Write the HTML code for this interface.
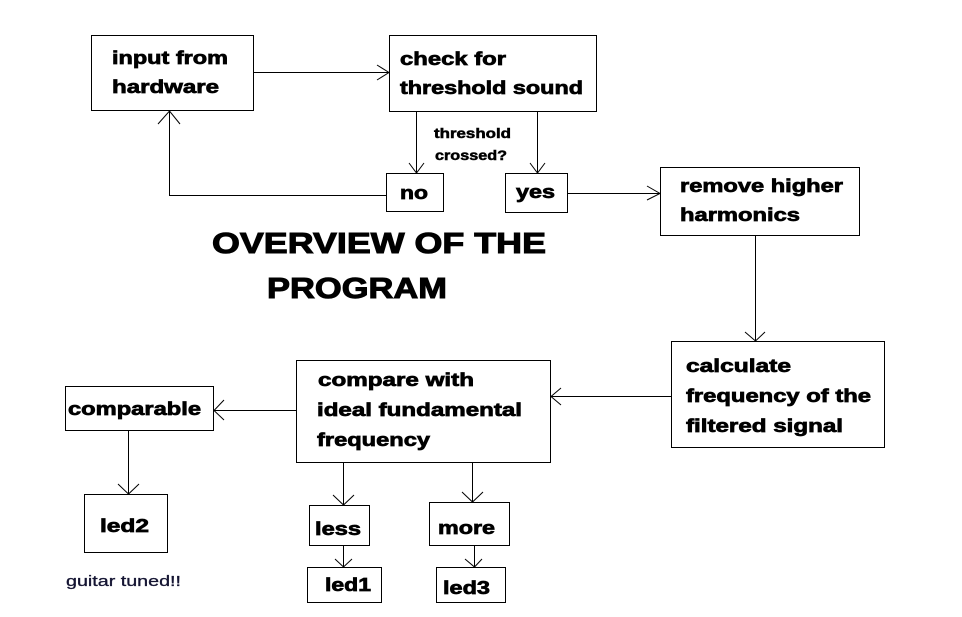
<!DOCTYPE html>
<html><head><meta charset="utf-8"><style>
html,body{margin:0;padding:0;background:#fff;}
svg{display:block}
text{font-family:"Liberation Sans",Arial,sans-serif;font-weight:bold;fill:#000;font-size:18px;stroke:#000;stroke-width:0.7px;}
.t{font-size:29px;stroke-width:1px}
.s{font-size:14px;stroke-width:0.5px}
.g{font-size:15px;fill:#141432;stroke:#141432;stroke-width:0.3px;font-weight:normal}
</style></head><body>
<svg width="962" height="617" viewBox="0 0 962 617" xmlns="http://www.w3.org/2000/svg">
<g fill="none" stroke="#000" stroke-width="1" shape-rendering="crispEdges">
<rect x="91.5" y="35.5" width="162" height="75"/>
<rect x="389.5" y="35.5" width="207" height="76"/>
<rect x="386.5" y="173.5" width="57" height="38"/>
<rect x="505.5" y="173.5" width="62" height="39"/>
<rect x="660.5" y="167.5" width="199" height="68"/>
<rect x="671.5" y="341.5" width="213" height="106"/>
<rect x="296.5" y="360.5" width="254" height="102"/>
<rect x="65.5" y="386.5" width="148" height="44"/>
<rect x="84.5" y="494.5" width="83" height="58"/>
<rect x="309.5" y="505.5" width="60" height="40"/>
<rect x="429.5" y="502.5" width="80" height="43"/>
<rect x="307.5" y="567.5" width="74" height="35"/>
<rect x="436.5" y="567.5" width="69" height="35"/>
<path d="M253.5 72.5H389.5 M416.5 111V173 M537.5 111V173 M386 195.5H169.5V110 M567 193.5H660 M755.5 235V341 M671 396.5H550 M296 410.5H213 M128.5 430V494 M343.5 462V505 M472.5 462V502 M343.5 545V567 M474.5 545V567"/>
</g>
<g fill="none" stroke="#000" stroke-width="1">
<path d="M377 65L389 72.5L377 80"/>
<path d="M409 163L416.5 173L424 163"/>
<path d="M530 163L537.5 173L545 163"/>
<path d="M158 124L169.5 111L180 124"/>
<path d="M647 186L660 193.5L647 200"/>
<path d="M745 332L755.5 341L765 332"/>
<path d="M561 388L551 396.5L561 405"/>
<path d="M224 400L214 410.5L224 420"/>
<path d="M118 484L128.5 494L139 484"/>
<path d="M333 495L343.5 505L354 495"/>
<path d="M462 492L472.5 502L483 492"/>
<path d="M335 559L343.5 567L352 559"/>
<path d="M465 559L474.5 567L482 559"/>
</g>
<text x="112" y="64" textLength="116" lengthAdjust="spacingAndGlyphs">input from</text>
<text x="112" y="93" textLength="107" lengthAdjust="spacingAndGlyphs">hardware</text>
<text x="400" y="65" textLength="106" lengthAdjust="spacingAndGlyphs">check for</text>
<text x="400" y="94" textLength="183" lengthAdjust="spacingAndGlyphs">threshold sound</text>
<text class="s" x="434" y="138" textLength="77" lengthAdjust="spacingAndGlyphs">threshold</text>
<text class="s" x="435" y="160" textLength="72" lengthAdjust="spacingAndGlyphs">crossed?</text>
<text x="400" y="199" textLength="28" lengthAdjust="spacingAndGlyphs">no</text>
<text x="516" y="198" textLength="39" lengthAdjust="spacingAndGlyphs">yes</text>
<text x="680" y="192" textLength="163" lengthAdjust="spacingAndGlyphs">remove higher</text>
<text x="680" y="221" textLength="120" lengthAdjust="spacingAndGlyphs">harmonics</text>
<text class="t" x="212" y="253" textLength="334" lengthAdjust="spacingAndGlyphs">OVERVIEW OF THE</text>
<text class="t" x="267" y="298" textLength="180" lengthAdjust="spacingAndGlyphs">PROGRAM</text>
<text x="686" y="372" textLength="105" lengthAdjust="spacingAndGlyphs">calculate</text>
<text x="686" y="402" textLength="185" lengthAdjust="spacingAndGlyphs">frequency of the</text>
<text x="686" y="432" textLength="157" lengthAdjust="spacingAndGlyphs">filtered signal</text>
<text x="318" y="386" textLength="156" lengthAdjust="spacingAndGlyphs">compare with</text>
<text x="317" y="416" textLength="205" lengthAdjust="spacingAndGlyphs">ideal fundamental</text>
<text x="317" y="446" textLength="113" lengthAdjust="spacingAndGlyphs">frequency</text>
<text x="68" y="415" textLength="133" lengthAdjust="spacingAndGlyphs">comparable</text>
<text x="100" y="532" textLength="49" lengthAdjust="spacingAndGlyphs">led2</text>
<text x="315" y="535" textLength="46" lengthAdjust="spacingAndGlyphs">less</text>
<text x="438" y="534" textLength="57" lengthAdjust="spacingAndGlyphs">more</text>
<text x="325" y="591" textLength="46" lengthAdjust="spacingAndGlyphs">led1</text>
<text x="443" y="594" textLength="47" lengthAdjust="spacingAndGlyphs">led3</text>
<text class="g" x="66" y="586" textLength="115" lengthAdjust="spacingAndGlyphs">guitar tuned!!</text>
</svg>
</body></html>
